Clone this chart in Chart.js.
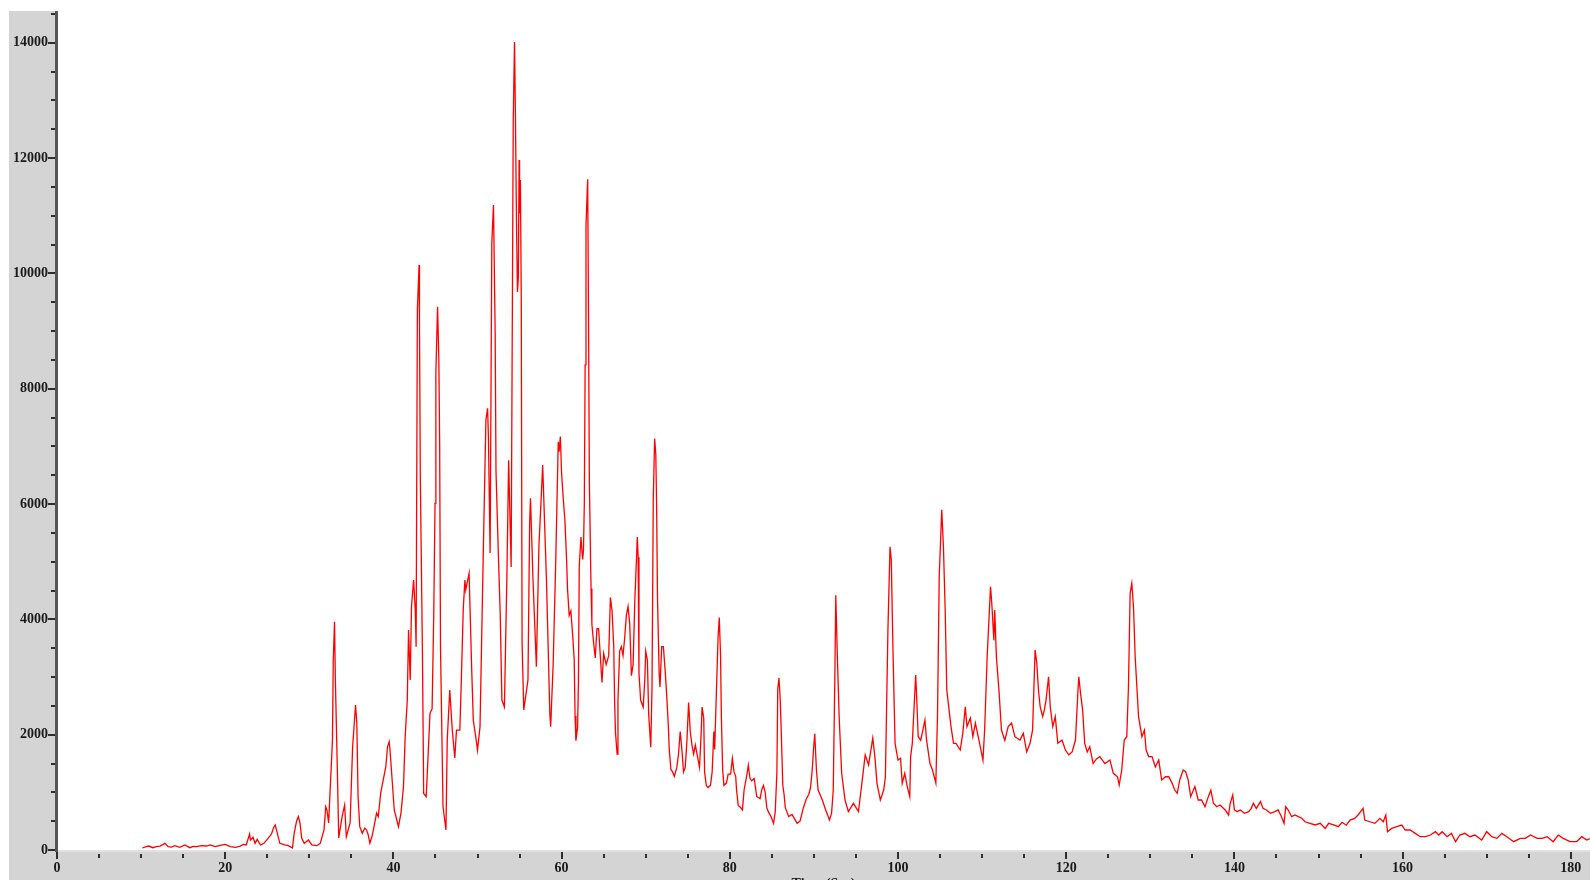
<!DOCTYPE html>
<html>
<head>
<meta charset="utf-8">
<script src="https://cdn.jsdelivr.net/npm/chart.js@4.4.1/dist/chart.umd.min.js"></script>
<style>
  html, body { margin: 0; padding: 0; background: #ffffff; }
  #wrap { position: relative; width: 1590px; height: 880px; }
  canvas { display: block; }
</style>
</head>
<body>
<div id="wrap"><canvas id="tic" width="1590" height="880"></canvas></div>
<script>
// Total ion chromatogram: retention time (s) against detector signal.
const retentionTime = [
  10.15,10.5,10.9,11.4,11.8,12.25,12.85,13.2,13.6,14.0,14.6,15.2,15.8,16.2,16.6,17.2,17.8,18.2,18.8,19.4,
  20.0,20.6,21.2,21.8,22.15,22.5,22.9,23.0,23.3,23.55,23.8,24.2,24.6,25.1,25.5,25.8,25.95,26.15,26.5,27.1,
  27.5,28.0,28.2,28.5,28.7,28.9,29.1,29.4,29.9,30.3,30.9,31.3,31.75,31.95,32.1,
  32.3,32.75,32.85,33.0,33.1,33.3,33.5,33.9,34.2,34.4,34.85,35.15,35.5,35.65,35.8,36.0,36.3,36.6,36.8,37.0,
  37.2,37.5,38.0,38.2,38.5,39.1,39.3,39.5,39.6,39.85,40.1,40.6,40.9,41.2,41.4,41.65,41.8,42.0,42.15,42.4,
  42.6,42.7,42.85,43.05,43.1,43.2,43.45,43.6,43.9,44.1,44.35,44.6,44.8,44.95,45.05,45.25,45.4,45.5,45.6,45.9,
  46.25,46.4,46.7,47.0,47.3,47.5,47.9,48.1,48.3,48.5,48.6,49.0,49.3,49.5,49.9,50.0,50.3,50.7,51.0,51.2,
  51.3,51.5,51.7,51.9,52.1,52.2,52.5,52.7,52.9,53.2,53.5,53.7,54.0,54.25,54.4,54.5,54.65,54.75,54.85,54.95,
  55.0,55.1,55.2,55.3,55.5,56.0,56.2,56.3,56.6,57.0,57.3,57.75,58.2,58.6,58.7,59.0,59.3,59.6,59.7,59.85,
  60.0,60.2,60.4,60.6,60.7,60.9,61.1,61.3,61.5,61.6,61.7,61.9,62.0,62.1,62.3,62.5,62.6,62.7,62.8,62.9,
  63.1,63.2,63.3,63.5,63.6,63.8,64.0,64.2,64.4,64.8,65.0,65.3,65.6,65.8,66.0,66.2,66.3,66.4,66.6,66.7,
  66.9,67.1,67.3,67.5,67.7,67.9,68.1,68.3,68.5,68.7,68.9,69.0,69.1,69.2,69.4,69.7,69.9,70.0,70.2,70.35,
  70.6,70.75,70.9,71.06,71.2,71.3,71.4,71.6,71.7,71.9,72.1,72.3,72.5,72.7,72.8,73.0,73.2,73.4,73.7,73.9,
  74.1,74.3,74.5,74.7,74.9,75.1,75.3,75.5,75.7,75.9,76.2,76.4,76.6,76.7,76.9,77.0,77.2,77.4,77.7,77.9,
  78.1,78.2,78.4,78.6,78.75,78.9,79.0,79.15,79.3,79.6,79.8,80.1,80.3,80.5,80.7,80.8,81.0,81.3,81.5,81.7,
  82.0,82.2,82.4,82.6,82.9,83.2,83.6,83.8,84.0,84.2,84.4,84.6,84.9,85.2,85.4,85.6,85.7,85.85,86.0,86.1,
  86.3,86.45,86.6,87.0,87.4,87.7,88.0,88.35,88.75,89.1,89.4,89.6,89.8,89.95,90.1,
  90.3,90.5,91.0,91.4,91.85,92.1,92.3,92.5,92.6,92.8,93.0,93.3,93.7,94.1,94.7,95.3,95.7,96.1,96.5,97.0,
  97.25,97.5,97.9,98.3,98.5,98.8,99.05,99.2,99.4,99.65,100.0,100.3,100.5,100.8,101.1,101.4,101.5,101.7,102.1,102.2,
  102.4,102.7,103.2,103.4,103.8,104.1,104.5,104.7,104.9,105.2,105.4,105.6,105.8,106.3,106.6,106.9,107.4,107.7,108.0,108.2,
  108.6,108.9,109.2,109.7,110.1,110.3,110.6,111.0,111.15,111.4,111.5,111.7,112.0,112.3,112.7,113.1,113.5,113.9,114.5,114.9,
  115.3,115.7,116.0,116.3,116.5,116.7,116.9,117.2,117.4,117.6,117.9,118.1,118.4,118.7,119.0,119.5,119.9,120.3,120.7,121.1,
  121.4,121.5,121.7,121.95,122.2,122.5,122.8,123.2,123.6,124.0,
  124.6,125.2,125.6,126.1,126.3,126.6,126.9,127.2,127.4,127.6,127.8,128.0,128.2,128.4,128.6,128.8,129.0,129.3,129.5,129.8,
  130.2,130.6,131.0,131.35,131.8,132.2,132.6,132.9,133.2,133.5,133.9,134.2,134.5,134.8,135.3,135.7,136.1,136.5,136.9,137.2,
  137.5,137.9,138.3,138.9,139.3,139.5,139.8,140.0,140.3,140.7,141.2,141.7,142.0,142.25,142.6,143.1,143.4,143.8,144.3,144.8,
  145.2,145.6,145.9,146.1,146.4,146.8,147.2,147.6,148.0,148.4,149.0,149.6,150.2,150.8,151.2,151.8,152.35,152.8,153.3,
  153.75,154.3,154.7,155.3,155.5,156.1,156.7,157.3,157.7,158.0,158.2,158.7,159.3,159.9,160.3,160.9,161.5,162.1,162.7,163.3,
  163.9,164.3,164.7,165.3,165.8,166.3,166.8,167.4,168.0,168.6,169.4,170.0,170.6,171.2,171.8,172.4,173.2,174.0,174.6,175.2,
  176.0,176.6,177.2,177.9,178.5,179.1,179.9,180.7,181.3,181.9,182.3
];

const signal = [
  35,55,69,40,60,69,116,58,50,75,46,87,40,62,58,75,69,87,58,81,
  98,58,46,69,98,87,277,173,220,116,185,87,116,202,277,404,433,318,116,87,
  75,35,289,508,578,462,202,116,173,87,75,116,347,750,693,
  470,1900,3295,3960,2950,1620,210,580,780,230,468,1790,2515,2200,925,405,290,380,350,265,
  120,260,640,580,1000,1445,1790,1880,1730,1214,694,405,640,1100,1965,2600,3815,2950,4220,4680,
  4160,3525,9364,10144,9140,6470,3440,980,925,1560,2370,2450,4100,6010,8270,9420,8530,7060,3525,750,
  347,1900,2775,2080,1595,2080,2080,3065,4160,4680,4510,4800,3180,2250,1850,1730,2140,5260,7460,7660,
  7140,5150,10525,11185,8965,6560,5030,4105,2600,2480,4800,6760,4910,12660,14015,12870,10700,9680,9920,11965,
  11040,11620,9650,3590,2430,2950,5670,6100,4680,3180,5260,6675,4680,2370,2140,3240,5000,7080,6910,7170,
  6530,6087,5699,5000,4535,4070,4147,3759,3294,2324,1897,2130,2906,4923,5427,5039,5194,6009,8414,10819,
  11634,9268,6397,4535,3914,3604,3332,3837,3837,2906,3410,3216,3371,4380,4147,3526,2596,2053,1665,2596,
  3449,3526,3371,3682,4070,4225,3914,3022,3216,4302,5039,5427,5078,3061,2596,2479,2984,3449,3294,2363,
  1781,2828,6087,7134,6862,5931,4380,3061,2828,3526,3526,3139,2673,2130,1742,1393,1354,1277,1432,1665,
  2053,1742,1354,1432,1897,2557,2053,1820,1665,1820,1587,1432,2053,2479,2285,1354,1122,1083,1122,1354,
  2053,1742,2712,3682,4031,3371,2285,1393,1122,1161,1316,1316,1587,1354,1277,1045,773,734,695,1045,
  1277,1471,1238,1200,1238,928,889,1045,1122,1006,734,657,579,462,657,1354,2790,2984,2596,2130,
  1122,967,734,579,618,540,462,501,734,889,967,1083,1393,1742,2014,
  1387,1040,867,694,520,640,1040,3120,4420,3295,2314,1330,867,665,810,665,1156,1650,1475,1940,
  1620,1156,867,1040,1270,3815,5260,5030,3470,1850,1560,1590,1156,1330,1100,925,1620,1850,3035,2720,
  1965,1900,2254,1900,1500,1387,1160,2370,4740,5900,5260,4220,2775,2140,1850,1850,1734,2023,2485,2140,
  2290,1965,2200,1850,1560,2080,3350,4565,4280,3640,4160,3350,2775,2080,1900,2140,2200,1965,1907,2023,
  1700,1850,2080,3470,3240,2775,2485,2314,2430,2600,3005,2485,2140,2314,1850,1907,1734,1650,1700,1907,
  2775,3005,2720,2430,1850,1700,1790,1500,1580,1620,
  1500,1560,1330,1270,1127,1387,1907,1965,2832,4450,4625,4220,3350,2830,2314,2140,1965,2080,1734,1620,
  1620,1440,1560,1214,1270,1270,1156,1040,983,1214,1387,1360,1214,925,1100,867,867,750,925,1040,
  810,750,780,694,608,810,955,694,665,694,636,665,722,810,722,840,722,694,636,665,
  694,578,462,750,694,578,608,578,550,490,462,434,462,375,462,434,404,480,430,
  520,549,607,723,520,490,462,549,490,607,318,375,404,433,347,347,289,231,231,260,
  318,260,318,231,289,144,260,289,231,260,173,318,231,202,289,231,144,202,202,260,
  202,202,231,144,260,202,144,144,231,173,200
];

// Axis tick values and minor tick spacing
const timeTicks = [0, 20, 40, 60, 80, 100, 120, 140, 160, 180];
const signalTicks = [0, 2000, 4000, 6000, 8000, 10000, 12000, 14000];
const timeMinorStep = 5;
const signalMinorStep = 500;

const points = retentionTime.map((t, i) => ({ x: t, y: signal[i] }));

const labelFont = { family: '"Liberation Serif", "Times New Roman", serif', size: 14, weight: 'bold' };
const panelGrey = '#d4d4d4';

// Grey frame behind the axes, then the axis line and tick marks on top.
const frame = {
  id: 'frame',
  beforeDraw(chart) {
    const { ctx, chartArea: a } = chart;
    ctx.save();
    ctx.fillStyle = panelGrey;
    ctx.fillRect(9, a.top, a.left - 9, chart.height - a.top);
    ctx.fillRect(9, a.bottom, chart.width - 9, chart.height - a.bottom);
    ctx.fillStyle = '#e2e2e2';
    ctx.fillRect(a.left, a.bottom, chart.width - a.left, 2);
    ctx.restore();
  },
  afterDraw(chart) {
    const { ctx, chartArea: a, scales: { x, y } } = chart;
    ctx.save();
    ctx.fillStyle = '#2e2e2e';
    // y ticks: long at labelled values, short in between
    for (let v = 0; v <= y.max; v += signalMinorStep) {
      const py = Math.round(y.getPixelForValue(v));
      const major = signalTicks.includes(v);
      const len = major ? 7 : 4;
      ctx.fillRect(a.left - 2 - len, py - 1, len, 2);
    }
    // x ticks
    for (let v = 0; v <= x.max; v += timeMinorStep) {
      const px = Math.round(x.getPixelForValue(v));
      const major = timeTicks.includes(v);
      ctx.fillRect(px - 1, a.bottom + (major ? 2 : 4), 2, major ? 7 : 4);
    }
    // y axis line
    ctx.fillStyle = '#555555';
    ctx.fillRect(a.left - 2, a.top, 3, a.bottom - a.top + 2);
    ctx.restore();
  }
};

new Chart(document.getElementById('tic'), {
  type: 'line',
  data: {
    datasets: [{
      data: points,
      borderColor: '#ff0000',
      borderWidth: 1.3,
      pointRadius: 0,
      tension: 0,
      fill: false
    }]
  },
  options: {
    responsive: false,
    animation: false,
    layout: { padding: { left: 9, top: 11, right: 0, bottom: 0 } },
    plugins: { legend: { display: false }, tooltip: { enabled: false } },
    scales: {
      x: {
        type: 'linear',
        min: 0,
        max: 182.28,
        afterBuildTicks: (axis) => { axis.ticks = timeTicks.map(v => ({ value: v })); },
        afterFit: (axis) => {
          axis.height = 30;
          axis.paddingLeft = 0;
          axis.paddingRight = 0;
        },
        grid: { display: false, drawTicks: false },
        border: { display: false },
        ticks: {
          font: labelFont, color: '#1a1a1a', padding: 10, maxRotation: 0, autoSkip: false,
          callback: (v) => String(v)
        },
        title: {
          display: true,
          text: 'Time (Sec)',
          font: labelFont,
          color: '#1a1a1a',
          padding: { top: 0, bottom: -13 }
        }
      },
      y: {
        type: 'linear',
        min: 0,
        max: 14551,
        afterBuildTicks: (axis) => { axis.ticks = signalTicks.map(v => ({ value: v })); },
        afterFit: (axis) => {
          axis.width = 48;
          axis.paddingTop = 0;
          axis.paddingBottom = 0;
        },
        grid: { display: false, drawTicks: false },
        border: { display: false },
        ticks: {
          font: labelFont, color: '#1a1a1a', padding: 9, autoSkip: false,
          callback: (v) => String(v)
        }
      }
    }
  },
  plugins: [frame]
});
</script>
</body>
</html>
